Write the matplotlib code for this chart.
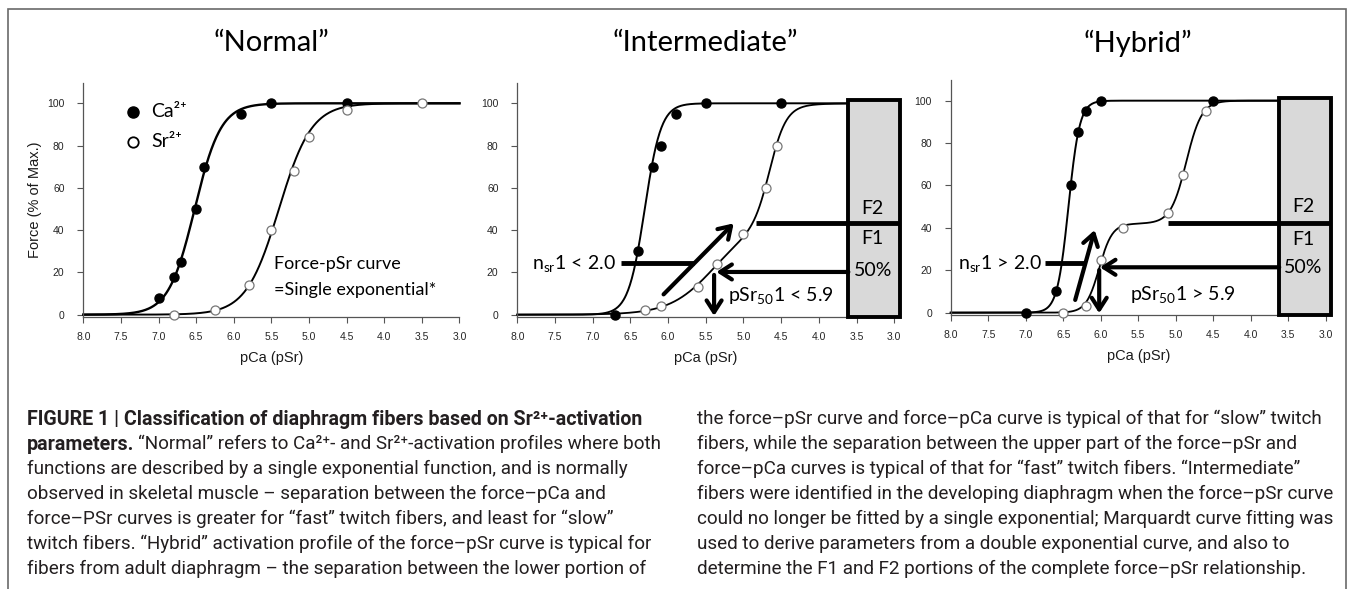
import numpy as np
import matplotlib
matplotlib.use('Agg')
import matplotlib.pyplot as plt
from matplotlib import font_manager as fm
from matplotlib.patches import Rectangle

W, H = 1354, 589

# ---- values ----
titles = ['\u201cNormal\u201d', '\u201cIntermediate\u201d', '\u201cHybrid\u201d']
x_ticks = [8.0, 7.5, 7.0, 6.5, 6.0, 5.5, 5.0, 4.5, 4.0, 3.5, 3.0]
y_ticks = [0, 20, 40, 60, 80, 100]

normal_ca_x = [7.0, 6.8, 6.7, 6.5, 6.4, 5.9, 5.5, 4.5]
normal_ca_y = [8, 18, 25, 50, 70, 95, 100, 100]
normal_sr_x = [6.8, 6.25, 5.8, 5.5, 5.2, 5.0, 4.5, 3.5]
normal_sr_y = [0, 2, 14, 40, 68, 84, 97, 100]

inter_ca_x = [6.7, 6.4, 6.2, 6.1, 5.9, 5.5, 4.5]
inter_ca_y = [0, 30, 70, 80, 95, 100, 100]
inter_sr_x = [6.3, 6.1, 5.6, 5.35, 5.0, 4.7, 4.55]
inter_sr_y = [2, 4, 13, 24, 38, 60, 80]

hybrid_ca_x = [7.0, 6.6, 6.4, 6.3, 6.2, 6.0, 4.5]
hybrid_ca_y = [0, 10, 60, 85, 95, 100, 100]
hybrid_sr_x = [6.5, 6.2, 6.0, 5.7, 5.1, 4.9, 4.6]
hybrid_sr_y = [0, 3, 25, 40, 47, 65, 95]

# fitted Hill curves drawn in the figure: (F1 %, p50_1, n1, p50_2, n2)
normal_ca_fit = (100, 6.52, 2.5, 0, 1)
normal_sr_fit = (100, 5.40, 2.0, 0, 1)
inter_ca_fit = (100, 6.31, 4.0, 0, 1)
inter_sr_fit = (43.5, 5.40, 1.5, 4.65, 4.0)
hybrid_ca_fit = (100, 6.43, 5.8, 0, 1)
hybrid_sr_fit = (42.0, 6.02, 5.0, 4.86, 4.2)

SUP = '\u00b2\u207a'  # superscript "2+"

caption_bold1 = 'FIGURE 1 | Classification of diaphragm fibers based on Sr' + SUP + '-activation'
caption_bold2 = 'parameters.'
caption_rest2 = ('\u201cNormal\u201d refers to Ca' + SUP + '- and Sr' + SUP +
                 '-activation profiles where both')
caption_left = [
    "functions are described by a single exponential function, and is normally",
    "observed in skeletal muscle \u2013 separation between the force\u2013pCa and",
    "force\u2013PSr curves is greater for \u201cfast\u201d twitch fibers, and least for \u201cslow\u201d",
    "twitch fibers. \u201cHybrid\u201d activation profile of the force\u2013pSr curve is typical for",
    "fibers from adult diaphragm \u2013 the separation between the lower portion of",
]
caption_right = [
    "the force\u2013pSr curve and force\u2013pCa curve is typical of that for \u201cslow\u201d twitch",
    "fibers, while the separation between the upper part of the force\u2013pSr and",
    "force\u2013pCa curves is typical of that for \u201cfast\u201d twitch fibers. \u201cIntermediate\u201d",
    "fibers were identified in the developing diaphragm when the force\u2013pSr curve",
    "could no longer be fitted by a single exponential; Marquardt curve fitting was",
    "used to derive parameters from a double exponential curve, and also to",
    "determine the F1 and F2 portions of the complete force\u2013pSr relationship.",
]


def has_font(name):
    try:
        fm.findfont(fm.FontProperties(family=name), fallback_to_default=False)
        return True
    except ValueError:
        return False


cap_font = 'Liberation Sans Narrow' if has_font('Liberation Sans Narrow') else 'Roboto'
cal = ['Lato', 'DejaVu Sans']
arial = ['Liberation Sans', 'DejaVu Sans']


def hill(p, fit):
    f1, p1, n1, p2, n2 = fit
    out = f1 / (1 + 10 ** (n1 * (p - p1)))
    if f1 < 100:
        out = out + (100 - f1) / (1 + 10 ** (n2 * (p - p2)))
    return out


fig = plt.figure(figsize=(W / 100, H / 100), dpi=100)

# panel boxes in pixels: left, right, top(109.7), bottom(-1.2)
boxes = [(83.3, 459.5, 82.8, 317.2), (517.3, 894.3, 82.8, 317.2), (950.7, 1325.7, 80.1, 315.2)]
axes = []
for l, r, t, b in boxes:
    ax = fig.add_axes([l / W, 1 - b / H, (r - l) / W, (b - t) / H])
    ax.set_xlim(8, 3)
    ax.set_ylim(-1.2, 109.7)
    ax.set_xticks(x_ticks)
    ax.set_xticklabels(['%.1f' % v for v in x_ticks], family=arial, fontsize=7.5, color='#262626')
    ax.set_yticks(y_ticks)
    ax.set_yticklabels([str(v) for v in y_ticks], family=arial, fontsize=7.5, color='#262626')
    for s in ['top', 'right']:
        ax.spines[s].set_visible(False)
    for s in ['left', 'bottom']:
        ax.spines[s].set_color('#555555')
        ax.spines[s].set_linewidth(0.9)
    ax.tick_params(axis='x', length=4.5, color='#555555', pad=6, width=0.8)
    ax.tick_params(axis='y', length=4.5, color='#555555', pad=9, width=0.8)
    ax.set_xlabel('pCa (pSr)', family=arial, fontsize=10.5, color='#1a1a1a')
    ax.xaxis.set_label_coords(0.5, -0.145)
    axes.append(ax)

for ax, title, (l, r, t, b) in zip(axes, titles, boxes):
    fig.text((l + r) / 2 / W, 1 - 43 / H, title, family=cal, fontsize=21,
             ha='center', va='center')

axes[0].text(-0.128, 0.5, 'Force (% of Max.)', transform=axes[0].transAxes, rotation=90,
             ha='center', va='center', family=arial, fontsize=10.5, color='#1a1a1a')

p = np.linspace(8, 3, 600)
panels = [
    (normal_ca_x, normal_ca_y, normal_sr_x, normal_sr_y, normal_ca_fit, normal_sr_fit, 1.7, 1.4),
    (inter_ca_x, inter_ca_y, inter_sr_x, inter_sr_y, inter_ca_fit, inter_sr_fit, 1.4, 1.3),
    (hybrid_ca_x, hybrid_ca_y, hybrid_sr_x, hybrid_sr_y, hybrid_ca_fit, hybrid_sr_fit, 1.4, 1.3),
]
for ax, (cx, cy, sx, sy, cfit, sfit, lwc, lws) in zip(axes, panels):
    ax.plot(p, hill(p, cfit), color='black', lw=lwc, zorder=2, clip_on=False)
    ax.plot(p, hill(p, sfit), color='black', lw=lws, zorder=2, clip_on=False)
    ax.plot(cx, cy, 'o', color='black', ms=6.5, zorder=3, clip_on=False)
    ax.plot(sx, sy, 'o', mfc='white', mec='#777777', mew=0.9, ms=6.5, zorder=3, clip_on=False)

# panel 1 legend and note
ax = axes[0]
ax.plot([7.335], [96], 'o', color='black', ms=8)
ax.plot([7.335], [81.8], 'o', mfc='white', mec='black', mew=1.3, ms=7.5)
ax.text(7.10, 96, 'Ca' + SUP, family=cal, fontsize=14, va='center')
ax.text(7.10, 81.8, 'Sr' + SUP, family=cal, fontsize=14, va='center')
ax.text(5.46, 24, 'Force-pSr curve', family=cal, fontsize=13, va='center')
ax.text(5.46, 11.7, '=Single exponential*', family=cal, fontsize=13, va='center')

arrow = dict(arrowstyle='->,head_length=0.7,head_width=0.45', lw=3, color='black',
             shrinkA=0, shrinkB=0, mutation_scale=12)


def f_box(ax, x0, x1, y0, y1, ydiv, xdiv, ylab):
    ax.add_patch(Rectangle((x1, y0), x0 - x1, y1 - y0, fc='#d9d9d9', ec='black',
                           lw=2.8, zorder=5, clip_on=False))
    ax.plot([xdiv, x1], [ydiv, ydiv], color='black', lw=3.5, zorder=6,
            solid_capstyle='butt', clip_on=False)
    xc = (x0 + x1) / 2 + 0.02
    for txt, yy in zip(['F2', 'F1', '50%'], ylab):
        ax.text(xc, yy, txt, family=cal, fontsize=14, ha='center', va='center', zorder=7)


# panel 2 annotations
ax = axes[1]
f_box(ax, 3.61, 2.92, -1.0, 101.6, 43.5, 4.84, [50.3, 36.1, 20.7])
ax.annotate('', xy=(5.36, 20.2), xytext=(3.61, 20.2), arrowprops=arrow, zorder=6)
ax.annotate('', xy=(5.39, -0.6), xytext=(5.39, 18.8), arrowprops=arrow, zorder=6)
ax.annotate('', xy=(5.13, 43.2), xytext=(6.06, 9.6), arrowprops=arrow, zorder=6)
ax.plot([6.62, 5.66], [24.3, 24.3], color='black', lw=3.5, solid_capstyle='butt', zorder=6)
ax.text(7.81, 23.6, r'n$_{\mathregular{sr}}$1 < 2.0', family=cal, fontsize=14, va='center')
ax.text(5.20, 8.8, r'pSr$_{\mathregular{50}}$1 < 5.9', family=cal, fontsize=14, va='center')

# panel 3 annotations
ax = axes[2]
f_box(ax, 3.62, 2.93, -1.1, 101.1, 42.1, 5.10, [50.0, 34.3, 21.4])
ax.annotate('', xy=(6.01, 21.4), xytext=(3.62, 21.4), arrowprops=arrow, zorder=6)
ax.annotate('', xy=(6.02, -0.3), xytext=(6.02, 20.1), arrowprops=arrow, zorder=6)
ax.annotate('', xy=(6.08, 39), xytext=(6.34, 6.0), arrowprops=arrow, zorder=6)
ax.plot([6.74, 6.22], [23.3, 23.3], color='black', lw=3.5, solid_capstyle='butt', zorder=6)
ax.text(7.90, 22.6, r'n$_{\mathregular{sr}}$1 > 2.0', family=cal, fontsize=14, va='center')
ax.text(5.61, 8.0, r'pSr$_{\mathregular{50}}$1 > 5.9', family=cal, fontsize=14, va='center')

# outer frame of the figure panel
fig.add_artist(Rectangle((7.5 / W, -0.05), (1345.5 - 7.5) / W, 1.05 - 8.5 / H,
                         transform=fig.transFigure, fill=False, ec='#6a6a6a', lw=1.2))

# caption, two columns
cap = dict(family=[cap_font, 'DejaVu Sans'], color='#231f20', va='center', fontsize=12)
x_left, x_right = 27 / W, 697 / W
line_y = [1 - (419.3 + 25 * k) / H for k in range(7)]
renderer = fig.canvas.get_renderer()

bold1 = fig.text(x_left, line_y[0], caption_bold1, fontweight='bold', **cap)
bold2 = fig.text(x_left, line_y[1], caption_bold2, fontweight='bold', **cap)
rest2 = fig.text(x_left, line_y[1], caption_rest2, **cap)
left_lines = [fig.text(x_left, line_y[k + 2], s, **cap) for k, s in enumerate(caption_left)]
right_lines = [fig.text(x_right, line_y[k], s, **cap) for k, s in enumerate(caption_right)]

# scale caption type so the measured line widths match the page
wb = bold1.get_window_extent(renderer).width
bsize = 12 * 613 / wb
for t in (bold1, bold2):
    t.set_fontsize(bsize)
wr = right_lines[3].get_window_extent(renderer).width
rsize = 12 * 638 / wr
for t in [rest2] + left_lines + right_lines:
    t.set_fontsize(rsize)
bw = bold2.get_window_extent(renderer).width
rest2.set_x((27 + bw + 0.3 * rsize) / W)

fig.savefig('out.png', dpi=100)
